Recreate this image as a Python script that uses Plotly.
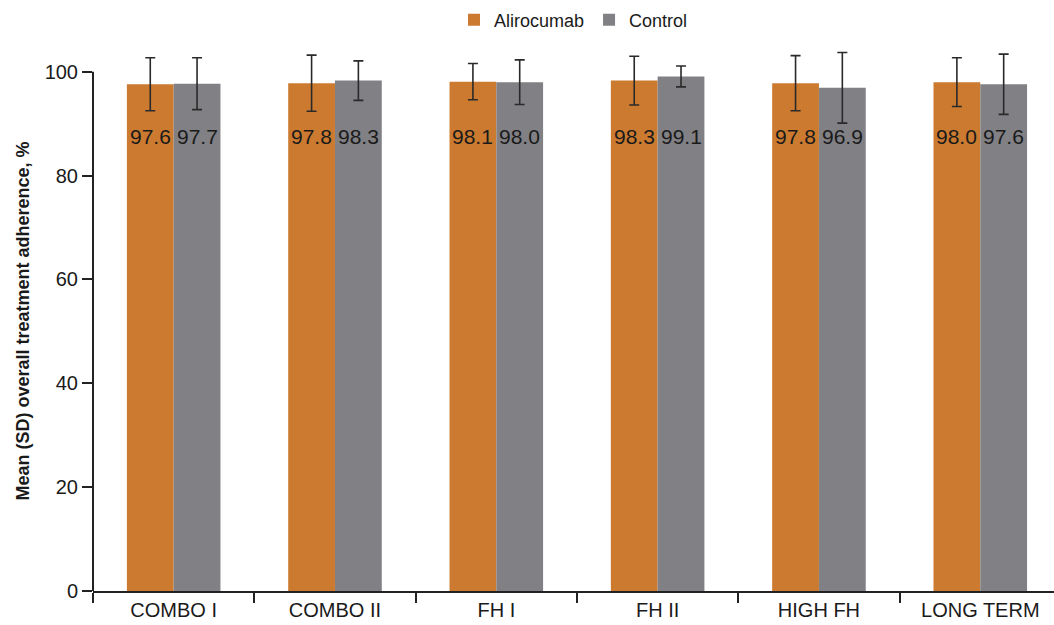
import plotly.graph_objects as go

categories = ["COMBO I", "COMBO II", "FH I", "FH II", "HIGH FH", "LONG TERM"]
alirocumab = [97.6, 97.8, 98.1, 98.3, 97.8, 98.0]
control = [97.7, 98.3, 98.0, 99.1, 96.9, 97.6]
alirocumab_sd = [5.1, 5.4, 3.5, 4.7, 5.3, 4.7]
control_sd = [5.0, 3.8, 4.3, 2.0, 6.8, 5.8]
y_ticks = [0, 20, 40, 60, 80, 100]

ORANGE = "#CC7A30"
GRAY = "#808085"
FONT = "Liberation Sans, Arial, sans-serif"

fig = go.Figure()
fig.add_trace(go.Bar(
    name="Alirocumab", x=categories, y=alirocumab, marker_color=ORANGE,
    marker_line_width=0,
    error_y=dict(type="data", array=alirocumab_sd, color="#2a2a2a", thickness=1.6, width=5),
))
fig.add_trace(go.Bar(
    name="Control", x=categories, y=control, marker_color=GRAY,
    marker_line_width=0,
    error_y=dict(type="data", array=control_sd, color="#2a2a2a", thickness=1.6, width=5),
))

label_y = 87.5
for cat, a, c in zip(categories, alirocumab, control):
    fig.add_annotation(x=cat, y=label_y, text=f"{a:.1f}", showarrow=False, xshift=-23.5,
                       font=dict(size=21, color="#1a1a1a", family=FONT))
    fig.add_annotation(x=cat, y=label_y, text=f"{c:.1f}", showarrow=False, xshift=23.5,
                       font=dict(size=21, color="#1a1a1a", family=FONT))

# y axis line only from 0 to 100
fig.add_shape(type="line", xref="paper", yref="y", x0=0, x1=0, y0=0, y1=100,
              line=dict(color="#222222", width=2))

fig.update_layout(
    width=1054, height=625,
    margin=dict(l=93, r=0, t=51, b=34),
    plot_bgcolor="white", paper_bgcolor="white",
    barmode="group", bargap=0.42, bargroupgap=0,
    font=dict(family=FONT, size=20, color="#1a1a1a"),
    showlegend=True,
    legend=dict(orientation="h", x=0.5, xanchor="center", y=1 - 20 / 625, yanchor="middle",
                yref="container",
                font=dict(size=18, family=FONT), itemwidth=30, bgcolor="rgba(0,0,0,0)"),
    xaxis=dict(
        range=[-0.5, 5.457], showline=True, linecolor="#222222", linewidth=2,
        ticks="outside", ticklen=10, tickwidth=2, tickcolor="#222222",
        tickson="boundaries", showgrid=False, tickfont=dict(size=20, family=FONT),
        automargin=False,
    ),
    yaxis=dict(
        range=[0, 104], showline=False, tickvals=y_ticks,
        ticks="outside", ticklen=10, tickwidth=2, tickcolor="#222222",
        showgrid=False, zeroline=False, tickfont=dict(size=20, family=FONT),
        automargin=False,
        title=dict(text="<b>Mean (SD) overall treatment adherence, %</b>",
                   font=dict(size=18, family=FONT), standoff=10),
    ),
)

fig.write_html("out.html", post_script="document.body.style.margin='0';",
               config={"displayModeBar": False})
